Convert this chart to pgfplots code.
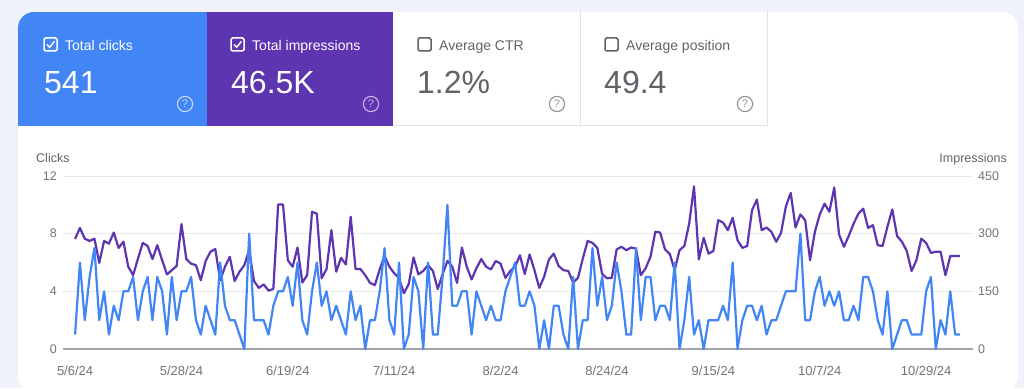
\documentclass[border=0pt]{standalone}
\usepackage{pgfplots}
\pgfplotsset{compat=1.18}
\usepackage{pgfplotstable}
\usepackage{fontspec}
\setmainfont{Liberation Sans}
\definecolor{bgc}{HTML}{EFF2F8}
\definecolor{gblue}{HTML}{4285F4}
\definecolor{gpurple}{HTML}{5E35B1}
\definecolor{txtgray}{HTML}{5F6368}
\definecolor{labgray}{HTML}{70757A}
\definecolor{gridgray}{HTML}{E8EAED}
\definecolor{axisgray}{HTML}{A0A4A8}
\definecolor{bordergray}{HTML}{E0E2E6}

\pgfplotstableread[row sep=\\]{
i c m\\
0 1 286\\ 1 6 315\\ 2 2 287\\ 3 5 281\\ 4 7 287\\ 5 2 224\\ 6 4 281\\ 7 1 274\\ 8 3 303\\ 9 2 263\\
10 4 279\\ 11 4 214\\ 12 5 192\\ 13 2 235\\ 14 4 276\\ 15 5 268\\ 16 2 234\\ 17 5 270\\ 18 4 231\\ 19 1 194\\
20 5 205\\ 21 2 216\\ 22 4 325\\ 23 4 234\\ 24 5 222\\ 25 2 218\\ 26 1 179\\ 27 3 229\\ 28 2 253\\ 29 1 260\\
30 6 179\\ 31 3 214\\ 32 2 240\\ 33 2 177\\ 34 1 201\\ 35 0 218\\ 36 8 257\\ 37 2 177\\ 38 2 159\\ 39 2 168\\
40 1 152\\ 41 3 156\\ 42 4 376\\ 43 4 376\\ 44 5 231\\ 45 3 214\\ 46 6 264\\ 47 2 173\\ 48 1 192\\ 49 4 357\\
50 6 352\\ 51 3 184\\ 52 4 208\\ 53 2 309\\ 54 3 201\\ 55 2 237\\ 56 1 220\\ 57 4 344\\ 58 2 208\\ 59 3 208\\
60 0 192\\ 61 2 172\\ 62 2 166\\ 63 4 207\\ 64 7 242\\ 65 2 214\\ 66 1 197\\ 67 6 184\\ 68 0 145\\ 69 1 169\\
70 5 238\\ 71 4 194\\ 72 0 203\\ 73 6 218\\ 74 1 203\\ 75 1 156\\ 76 5 194\\ 77 10 229\\ 78 3 214\\ 79 3 172\\
80 4 264\\ 81 4 214\\ 82 1 181\\ 83 4 210\\ 84 3 234\\ 85 2 214\\ 86 3 207\\ 87 2 229\\ 88 2 222\\ 89 4 185\\
90 5 203\\ 91 6 214\\ 92 3 244\\ 93 3 195\\ 94 4 246\\ 95 3 205\\ 96 0 159\\ 97 2 188\\ 98 0 233\\ 99 3 248\\
100 3 216\\ 101 1 205\\ 102 0 203\\ 103 5 173\\ 104 0 185\\ 105 2 235\\ 106 2 281\\ 107 7 276\\ 108 3 263\\ 109 5 195\\
110 2 184\\ 111 3 185\\ 112 6 259\\ 113 4 266\\ 114 1 257\\ 115 1 264\\ 116 7 261\\ 117 2 192\\ 118 5 210\\ 119 5 240\\
120 2 305\\ 121 3 303\\ 122 3 259\\ 123 2 247\\ 124 6 205\\ 125 0 257\\ 126 2 268\\ 127 5 326\\ 128 1 423\\ 129 2 233\\
130 0 289\\ 131 2 248\\ 132 2 255\\ 133 2 335\\ 134 3 329\\ 135 2 309\\ 136 6 341\\ 137 0 283\\ 138 2 263\\ 139 3 268\\
140 3 361\\ 141 2 389\\ 142 3 309\\ 143 1 316\\ 144 2 305\\ 145 2 279\\ 146 3 302\\ 147 4 371\\ 148 4 406\\ 149 4 316\\
150 8 350\\ 151 2 335\\ 152 2 231\\ 153 4 305\\ 154 5 350\\ 155 3 378\\ 156 4 357\\ 157 3 420\\ 158 4 298\\ 159 2 266\\
160 2 294\\ 161 3 326\\ 162 2 352\\ 163 5 365\\ 164 5 315\\ 165 4 322\\ 166 2 270\\ 167 1 268\\ 168 4 318\\ 169 0 363\\
170 1 294\\ 171 2 279\\ 172 2 255\\ 173 1 203\\ 174 1 231\\ 175 1 287\\ 176 4 276\\ 177 5 250\\ 178 0 253\\ 179 2 253\\
180 1 192\\ 181 4 242\\ 182 1 242\\ 183 1 242\\
}\gscdata

\newcommand{\checkedbox}[1]{%
  \draw[white, line width=1.5pt, rounded corners=1.5pt] (#1,337) rectangle ++(13,13);
  \draw[white, line width=1.4pt] (#1+3,343.5) -- (#1+5.6,340.6) -- (#1+10.4,346.6);}
\newcommand{\emptybox}[1]{%
  \draw[txtgray, line width=1.5pt, rounded corners=1.5pt] (#1,337) rectangle ++(13,13);}
\newcommand{\helpicon}[2]{%
  \draw[#2, line width=1.1pt] (#1,284) circle (7.6);
  \node[text=#2, font=\fontsize{11}{11}\selectfont, inner sep=0pt] at (#1,284) {?};}

\begin{document}
\begin{tikzpicture}[x=1pt,y=1pt]
\path[use as bounding box] (0,0) rectangle (1024,388);
\clip (0,0) rectangle (1024,388);
\fill[bgc] (0,0) rectangle (1024,388);
% panel
\fill[white, rounded corners=16pt] (18,-4) rectangle (1018,376);
\begin{scope}
  \clip[rounded corners=16pt] (18,-4) rectangle (1018,376);
  \fill[gblue] (18,262) rectangle (207,376);
  \fill[gpurple] (207,262) rectangle (393,376);
\end{scope}
\draw[bordergray, line width=1pt] (393,262) -- (767,262);
\draw[bordergray, line width=1pt] (580,262) -- (580,376);
\draw[bordergray, line width=1pt] (767,262) -- (767,376);

% card 1
\checkedbox{44}
\node[anchor=base west, inner sep=0pt, text=white, font=\fontsize{14}{16}\selectfont] at (65,337.5) {Total clicks};
\node[anchor=base west, inner sep=0pt, text=white, font=\fontsize{32}{36}\selectfont] at (44,294) {541};
\helpicon{185}{white!70!gblue}
% card 2
\checkedbox{231}
\node[anchor=base west, inner sep=0pt, text=white, font=\fontsize{14}{16}\selectfont] at (252,337.5) {Total impressions};
\node[anchor=base west, inner sep=0pt, text=white, font=\fontsize{32}{36}\selectfont] at (231,294) {46.5K};
\helpicon{371}{white!65!gpurple}
% card 3
\emptybox{418}
\node[anchor=base west, inner sep=0pt, text=txtgray, font=\fontsize{14}{16}\selectfont] at (439,337.5) {Average CTR};
\node[anchor=base west, inner sep=0pt, text=txtgray, font=\fontsize{32}{36}\selectfont] at (417,294) {1.2\%};
\helpicon{557}{labgray!80}
% card 4
\emptybox{605}
\node[anchor=base west, inner sep=0pt, text=txtgray, font=\fontsize{14}{16}\selectfont] at (626,337.5) {Average position};
\node[anchor=base west, inner sep=0pt, text=txtgray, font=\fontsize{32}{36}\selectfont] at (604,294) {49.4};
\helpicon{745}{labgray!80}

% axis titles
\node[anchor=base west, inner sep=0pt, text=txtgray, font=\fontsize{12.5}{14}\selectfont] at (36,225) {Clicks};
\node[anchor=base east, inner sep=0pt, text=txtgray, font=\fontsize{12.5}{14}\selectfont] at (1007,225) {Impressions};

% impressions axis (right), with grid and date axis
\begin{axis}[
  at={(63pt,39pt)}, anchor=south west, scale only axis,
  width=910pt, height=173pt,
  xmin=-2.5, xmax=185.7, ymin=0, ymax=450,
  axis x line*=bottom, axis y line*=right,
  x axis line style={draw=axisgray, line width=1.1pt, -},
  y axis line style={draw=none},
  xtick={0,22,44,66,88,110,132,154,176},
  xticklabels={5/6/24,5/28/24,6/19/24,7/11/24,8/2/24,8/24/24,9/15/24,10/7/24,10/29/24},
  ytick={0,150,300,450}, yticklabels={0,150,300,450},
  ymajorgrids, major grid style={gridgray, line width=0.9pt},
  tick style={draw=none}, major tick length=0pt,
  /pgf/number format/assume math mode=true,
  xticklabel style={font=\fontsize{13}{15}\selectfont, text=labgray, inner sep=0pt, anchor=north, yshift=-17pt},
  yticklabel style={font=\fontsize{12.5}{14}\selectfont, text=labgray, inner sep=0pt, anchor=west, xshift=5pt},
  clip=false,
]
\addplot[gpurple, line width=2.2pt, line join=round, mark=none] table[x=i, y=m] {\gscdata};
\end{axis}

% clicks axis (left)
\begin{axis}[
  at={(63pt,39pt)}, anchor=south west, scale only axis,
  width=910pt, height=173pt,
  xmin=-2.5, xmax=185.7, ymin=0, ymax=12,
  axis x line=none, axis y line*=left,
  y axis line style={draw=none},
  ytick={0,4,8,12}, yticklabels={0,4,8,12},
  tick style={draw=none}, major tick length=0pt,
  /pgf/number format/assume math mode=true,
  yticklabel style={font=\fontsize{12.5}{14}\selectfont, text=labgray, inner sep=0pt, anchor=east, xshift=-6pt},
  clip=false,
]
\addplot[gblue, line width=2.2pt, line join=round, mark=none] table[x=i, y=c] {\gscdata};
\end{axis}
\end{tikzpicture}
\end{document}
